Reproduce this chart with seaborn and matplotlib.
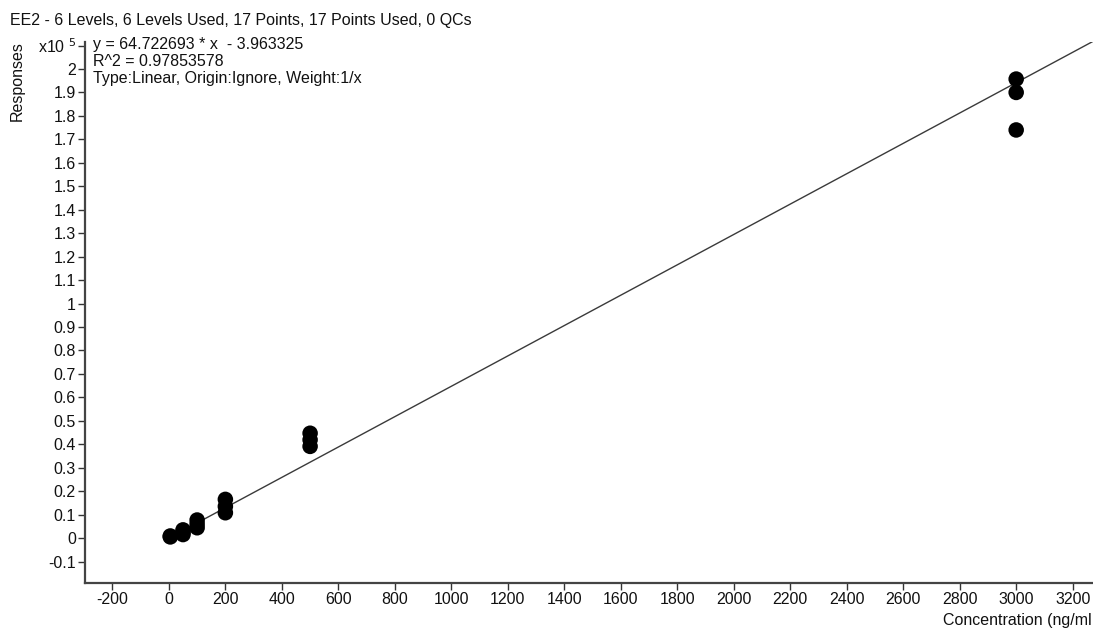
import numpy as np
import pandas as pd
import matplotlib
matplotlib.use("Agg")
import matplotlib.pyplot as plt
from matplotlib.ticker import FixedLocator, FuncFormatter
import seaborn as sns

# Calibration standards (concentration in ng/ml, detector response)
conc_levels = [5, 5,
               50, 50, 50,
               100, 100, 100,
               200, 200, 200,
               500, 500, 500,
               3000, 3000, 3000]
responses = [500, 900,
             1500, 2500, 3500,
             4400, 6000, 7700,
             10800, 13500, 16500,
             39100, 41900, 44700,
             174000, 190000, 195700]

# Fitted calibration curve
slope = 64.722693
intercept = -3.963325
r_squared = 0.97853578

title = "EE2 - 6 Levels, 6 Levels Used, 17 Points, 17 Points Used, 0 QCs"
x_ticks = list(range(-200, 3201, 200))
y_ticks = [round(v * 0.1, 1) * 1e5 for v in range(-1, 21)]

x_range = (-297, 3272)
y_range = (-19150, 211500)

sns.set_style("ticks")
plt.rcParams["font.family"] = ["Liberation Sans", "DejaVu Sans"]
plt.rcParams["axes.unicode_minus"] = False

FS = 11.5
W, H = 1093, 631
fig = plt.figure(figsize=(W / 100, H / 100), dpi=100)
ax = fig.add_axes([85 / W, 1 - 583 / H, 1 - 85 / W, (583 - 42) / H])

pts = pd.DataFrame({"Concentration": conc_levels, "Response": responses})
line_x = np.linspace(min(conc_levels), x_range[1], 200)
fit = pd.DataFrame({"Concentration": line_x, "Response": slope * line_x + intercept})

sns.lineplot(data=fit, x="Concentration", y="Response", ax=ax,
             color="#3a3a3a", linewidth=1.0, zorder=2)
sns.scatterplot(data=pts, x="Concentration", y="Response", ax=ax,
                color="black", s=125, edgecolor="none", zorder=3)

ax.set_xlim(*x_range)
ax.set_ylim(*y_range)
ax.set_xlabel("")
ax.set_ylabel("")

ax.xaxis.set_major_locator(FixedLocator(x_ticks))
exp_tick = 2.1e5
ax.yaxis.set_major_locator(FixedLocator(y_ticks + [exp_tick]))


def y_fmt(v, pos):
    if abs(v - exp_tick) < 1:
        return "x10 $^{5}$"
    return "{:g}".format(round(v / 1e5, 1))


ax.yaxis.set_major_formatter(FuncFormatter(y_fmt))
ax.tick_params(axis="both", direction="out", length=5, width=1.0,
               color="#333333", labelsize=FS, labelcolor="#111111", pad=1.5)

for side in ("top", "right"):
    ax.spines[side].set_visible(False)
for side in ("left", "bottom"):
    ax.spines[side].set_color("#444444")
    ax.spines[side].set_linewidth(1.6)

fig.text(10 / W, 1 - 20 / H, title, ha="left", va="center",
         fontsize=FS, color="#111111")
fig.text(17 / W, 1 - 81 / H, "Responses", rotation=90, ha="center",
         va="center", fontsize=FS, color="#111111")
fig.text(1 - 1 / W, 1 - 620 / H, "Concentration (ng/ml", ha="right",
         va="center", fontsize=FS, color="#111111")

info = [
    f"y = {slope:.6f} * x  - {abs(intercept):.6f}",
    f"R^2 = {r_squared:.8f}",
    "Type:Linear, Origin:Ignore, Weight:1/x",
]
for i, line in enumerate(info):
    fig.text(93 / W, 1 - (45 + 17 * i) / H, line, ha="left", va="center",
             fontsize=FS, color="#111111")

fig.savefig("out.png", dpi=100)
